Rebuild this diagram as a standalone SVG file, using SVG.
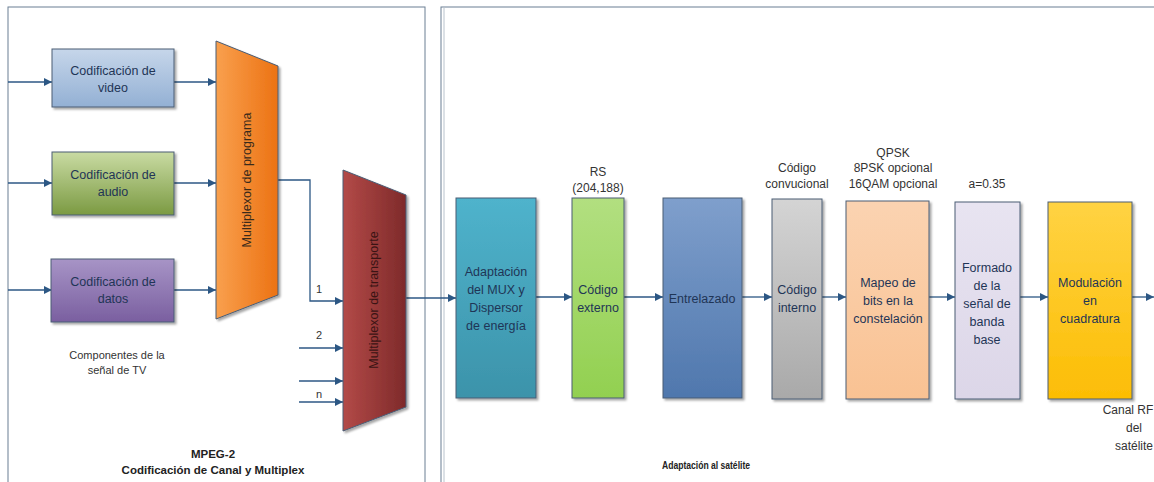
<svg xmlns="http://www.w3.org/2000/svg" width="1154" height="482" viewBox="0 0 1154 482">
<defs>
<linearGradient id="gVid" x1="0" y1="0" x2="0" y2="1"><stop offset="0" stop-color="#c6d6ea"/><stop offset="1" stop-color="#93b0d4"/></linearGradient>
<linearGradient id="gAud" x1="0" y1="0" x2="0" y2="1"><stop offset="0" stop-color="#c9dba3"/><stop offset="1" stop-color="#7b9a42"/></linearGradient>
<linearGradient id="gDat" x1="0" y1="0" x2="0" y2="1"><stop offset="0" stop-color="#a794c6"/><stop offset="1" stop-color="#7a5fa0"/></linearGradient>
<linearGradient id="gOra" x1="0" y1="0" x2="1" y2="0"><stop offset="0" stop-color="#f9a04e"/><stop offset="1" stop-color="#ec7213"/></linearGradient>
<linearGradient id="gRed" x1="0" y1="0" x2="1" y2="0"><stop offset="0" stop-color="#b34a48"/><stop offset="1" stop-color="#7e2a2a"/></linearGradient>
<linearGradient id="gTeal" x1="0" y1="0" x2="0" y2="1"><stop offset="0" stop-color="#4fb3cc"/><stop offset="1" stop-color="#3c93aa"/></linearGradient>
<linearGradient id="gLime" x1="0" y1="0" x2="0" y2="1"><stop offset="0" stop-color="#b2df80"/><stop offset="1" stop-color="#92d050"/></linearGradient>
<linearGradient id="gBlue" x1="0" y1="0" x2="0" y2="1"><stop offset="0" stop-color="#7f9fcc"/><stop offset="1" stop-color="#4f77ad"/></linearGradient>
<linearGradient id="gGray" x1="0" y1="0" x2="0" y2="1"><stop offset="0" stop-color="#d4d4d4"/><stop offset="1" stop-color="#a9a9a9"/></linearGradient>
<linearGradient id="gPeach" x1="0" y1="0" x2="0" y2="1"><stop offset="0" stop-color="#fbd3b1"/><stop offset="1" stop-color="#f9c293"/></linearGradient>
<linearGradient id="gLav" x1="0" y1="0" x2="0" y2="1"><stop offset="0" stop-color="#e8e4f1"/><stop offset="1" stop-color="#dcd6e8"/></linearGradient>
<linearGradient id="gYel" x1="0" y1="0" x2="0" y2="1"><stop offset="0" stop-color="#ffd343"/><stop offset="1" stop-color="#fcbd04"/></linearGradient>
<marker id="arr" viewBox="0 0 10 10" refX="10" refY="5" markerWidth="8" markerHeight="8" markerUnits="userSpaceOnUse" orient="auto"><path d="M0,0 L10,5 L0,10 z" fill="#2c5784"/></marker>
<filter id="sh" x="-10%" y="-10%" width="130%" height="130%"><feDropShadow dx="2" dy="2" stdDeviation="1.2" flood-color="#000" flood-opacity="0.35"/></filter>
<style>
.box{stroke:#4a5d75;stroke-width:1;filter:url(#sh)}
.t{font-family:"Liberation Sans",Arial,sans-serif;font-size:12.5px;fill:#1f3556;text-anchor:middle}
.s{font-family:"Liberation Sans",Arial,sans-serif;font-size:12px;fill:#333;text-anchor:middle}
.sm{font-family:"Liberation Sans",Arial,sans-serif;font-size:11px;fill:#333;text-anchor:middle}
.b{font-family:"Liberation Sans",Arial,sans-serif;font-size:11.5px;font-weight:bold;fill:#222;text-anchor:middle}
.c{fill:none;stroke:#2c5784;stroke-width:1.3}
.panel{fill:#fff;stroke:#6b7f93;stroke-width:1}
</style>
</defs>
<rect width="1154" height="482" fill="#fff"/>
<g id="panel-mpeg">
<rect class="panel" x="8" y="7" width="417" height="480"/>
<text class="b" x="213" y="458">MPEG-2</text>
<text class="b" x="213" y="474">Codificación de Canal y Multiplex</text>
<text class="sm" x="117" y="359">Componentes de la</text>
<text class="sm" x="117" y="374">señal de TV</text>
</g>
<g id="panel-sat">
<rect class="panel" x="441" y="7" width="720" height="480"/>
<line x1="444" y1="7" x2="444" y2="482" stroke="#b8c2cc" stroke-width="1"/>
<text class="b" x="706" y="469" style="font-size:11px" textLength="88" lengthAdjust="spacingAndGlyphs">Adaptación al satélite</text>
</g>
<g id="connectors">
<line class="c" x1="8" y1="82" x2="52" y2="82" marker-end="url(#arr)"/>
<line class="c" x1="8" y1="183" x2="52" y2="183" marker-end="url(#arr)"/>
<line class="c" x1="8" y1="290" x2="52" y2="290" marker-end="url(#arr)"/>
<line class="c" x1="174" y1="82" x2="216" y2="82" marker-end="url(#arr)"/>
<line class="c" x1="174" y1="183" x2="216" y2="183" marker-end="url(#arr)"/>
<line class="c" x1="174" y1="290" x2="216" y2="290" marker-end="url(#arr)"/>
<polyline class="c" points="278,180 310,180 310,301 343,301" marker-end="url(#arr)"/>
<line class="c" x1="299" y1="348" x2="343" y2="348" marker-end="url(#arr)"/>
<line class="c" x1="299" y1="381" x2="343" y2="381" marker-end="url(#arr)"/>
<line class="c" x1="299" y1="402" x2="343" y2="402" marker-end="url(#arr)"/>
<text class="sm" x="319" y="293">1</text>
<text class="sm" x="319" y="339">2</text>
<text class="sm" x="319" y="398">n</text>
<line class="c" x1="406" y1="298" x2="456" y2="298" marker-end="url(#arr)"/>
<line class="c" x1="536" y1="297" x2="572" y2="297" marker-end="url(#arr)"/>
<line class="c" x1="624" y1="297" x2="663" y2="297" marker-end="url(#arr)"/>
<line class="c" x1="742" y1="297" x2="772" y2="297" marker-end="url(#arr)"/>
<line class="c" x1="822" y1="297" x2="846" y2="297" marker-end="url(#arr)"/>
<line class="c" x1="929" y1="297" x2="955" y2="297" marker-end="url(#arr)"/>
<line class="c" x1="1020" y1="297" x2="1048" y2="297" marker-end="url(#arr)"/>
<line class="c" x1="1132" y1="297" x2="1154" y2="297" marker-end="url(#arr)"/>
</g>
<g id="video">
<rect class="box" x="52" y="49" width="122" height="58" fill="url(#gVid)"/>
<text class="t" x="113" y="75">Codificación de</text>
<text class="t" x="113" y="92">video</text>
</g>
<g id="audio">
<rect class="box" x="52" y="152" width="122" height="63" fill="url(#gAud)"/>
<text class="t" x="113" y="179">Codificación de</text>
<text class="t" x="113" y="196">audio</text>
</g>
<g id="datos">
<rect class="box" x="51" y="259" width="123" height="63" fill="url(#gDat)"/>
<text class="t" x="113" y="286">Codificación de</text>
<text class="t" x="113" y="303">datos</text>
</g>
<g id="mux-programa">
<polygon class="box" points="216,41 278,66 278,295 216,319" fill="url(#gOra)"/>
<text class="t" x="0" y="0" style="fill:#3a2a1a" transform="translate(251,180) rotate(-90)">Multiplexor de programa</text>
</g>
<g id="mux-transporte">
<polygon class="box" points="343,170 406,195 406,407 343,431" fill="url(#gRed)"/>
<text class="t" x="0" y="0" style="fill:#3a1414" transform="translate(378,300) rotate(-90)">Multiplexor de transporte</text>
</g>
<g id="adaptacion">
<rect class="box" x="456" y="198" width="80" height="200" fill="url(#gTeal)"/>
<text class="t" x="496" y="276">Adaptación</text>
<text class="t" x="496" y="294">del MUX y</text>
<text class="t" x="496" y="312">Dispersor</text>
<text class="t" x="496" y="330">de energía</text>
</g>
<g id="codigo-externo">
<rect class="box" x="572" y="198" width="52" height="200" fill="url(#gLime)"/>
<text class="t" x="598" y="294">Código</text>
<text class="t" x="598" y="312">externo</text>
<text class="s" x="598" y="176">RS</text>
<text class="s" x="598" y="192">(204,188)</text>
</g>
<g id="entrelazado">
<rect class="box" x="663" y="198" width="79" height="200" fill="url(#gBlue)"/>
<text class="t" x="702" y="303">Entrelazado</text>
</g>
<g id="codigo-interno">
<rect class="box" x="772" y="199" width="50" height="200" fill="url(#gGray)"/>
<text class="t" x="797" y="294">Código</text>
<text class="t" x="797" y="312">interno</text>
<text class="s" x="797" y="172">Código</text>
<text class="s" x="797" y="188">convucional</text>
</g>
<g id="mapeo">
<rect class="box" x="846" y="201" width="83" height="198" fill="url(#gPeach)"/>
<text class="t" x="888" y="287">Mapeo de</text>
<text class="t" x="888" y="305">bits en la</text>
<text class="t" x="888" y="323">constelación</text>
<text class="s" x="893" y="157">QPSK</text>
<text class="s" x="893" y="172">8PSK opcional</text>
<text class="s" x="893" y="188">16QAM opcional</text>
</g>
<g id="formado">
<rect class="box" x="955" y="202" width="65" height="197" fill="url(#gLav)"/>
<text class="t" x="987" y="272">Formado</text>
<text class="t" x="987" y="290">de la</text>
<text class="t" x="987" y="308">señal de</text>
<text class="t" x="987" y="326">banda</text>
<text class="t" x="987" y="344">base</text>
<text class="s" x="987" y="188">a=0.35</text>
</g>
<g id="modulacion">
<rect class="box" x="1048" y="202" width="84" height="197" fill="url(#gYel)"/>
<text class="t" x="1090" y="287">Modulación</text>
<text class="t" x="1090" y="305">en</text>
<text class="t" x="1090" y="323">cuadratura</text>
<text class="s" x="1128" y="414">Canal RF</text>
<text class="s" x="1134" y="432">del</text>
<text class="s" x="1134" y="450">satélite</text>
</g>
</svg>
